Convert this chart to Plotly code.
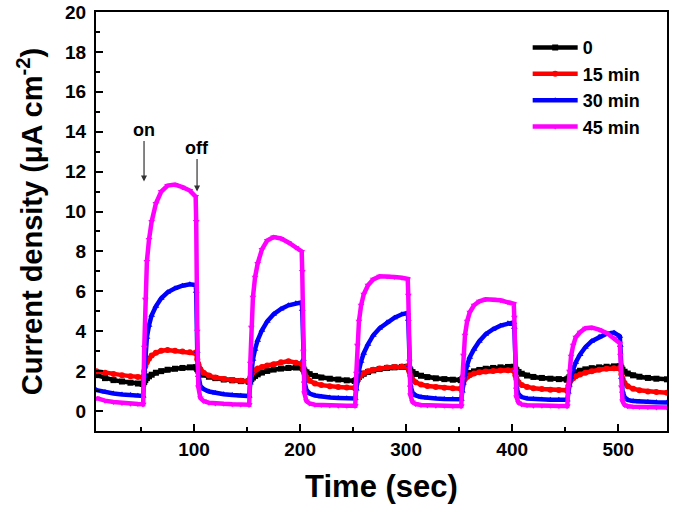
import plotly.graph_objects as go

# time axis (sec)
times = [
    8, 16, 24, 32, 40, 47, 51.5,
    52, 53, 54, 55.5, 57.5, 60, 64, 69, 75, 82, 89, 96, 101.5,
    102, 103, 104, 106, 109, 114, 120, 128, 136, 144, 151.5,
    152, 153, 154, 155.5, 157.5, 160, 164, 169, 175, 182, 189, 196, 201.5,
    202, 203, 204, 206, 209, 214, 220, 228, 236, 244, 251.5,
    252, 253, 254, 255.5, 257.5, 260, 264, 269, 275, 282, 289, 296, 301.5,
    302, 303, 304, 306, 309, 314, 320, 328, 336, 344, 351.5,
    352, 353, 354, 355.5, 357.5, 360, 364, 369, 375, 382, 389, 396, 401.5,
    402, 403, 404, 406, 409, 414, 420, 428, 436, 444, 451.5,
    452, 453, 454, 455.5, 457.5, 460, 464, 469, 475, 482, 489, 496, 501.5,
    502, 503, 504, 506, 509, 514, 520, 528, 536, 546,
]

current_0min = [
    1.80, 1.65, 1.55, 1.48, 1.42, 1.38, 1.36,
    1.36, 1.45, 1.55, 1.65, 1.74, 1.82, 1.92, 2.00, 2.07, 2.12, 2.16, 2.19, 2.20,
    2.18, 2.10, 2.02, 1.92, 1.82, 1.72, 1.65, 1.58, 1.54, 1.50, 1.48,
    1.48, 1.53, 1.60, 1.68, 1.76, 1.84, 1.93, 2.01, 2.08, 2.13, 2.16, 2.18, 2.19,
    2.17, 2.10, 2.03, 1.94, 1.85, 1.76, 1.68, 1.62, 1.58, 1.54, 1.51,
    1.51, 1.56, 1.63, 1.71, 1.79, 1.87, 1.96, 2.04, 2.11, 2.16, 2.19, 2.21, 2.22,
    2.20, 2.12, 2.04, 1.95, 1.86, 1.77, 1.70, 1.64, 1.60, 1.57, 1.55,
    1.55, 1.60, 1.67, 1.75, 1.83, 1.91, 1.99, 2.06, 2.12, 2.16, 2.19, 2.21, 2.22,
    2.20, 2.12, 2.05, 1.96, 1.87, 1.78, 1.71, 1.66, 1.62, 1.60, 1.58,
    1.58, 1.63, 1.70, 1.78, 1.86, 1.94, 2.02, 2.09, 2.15, 2.19, 2.22, 2.24, 2.25,
    2.23, 2.15, 2.07, 1.97, 1.88, 1.79, 1.72, 1.66, 1.62, 1.59,
]

current_15min = [
    2.00, 1.92, 1.86, 1.80, 1.75, 1.71, 1.69,
    1.69, 2.00, 2.25, 2.45, 2.62, 2.78, 2.92, 3.02, 3.06, 3.02, 2.98, 2.95, 2.93,
    2.88, 2.60, 2.35, 2.10, 1.92, 1.78, 1.68, 1.60, 1.55, 1.52, 1.50,
    1.50, 1.68, 1.82, 1.95, 2.05, 2.13, 2.21, 2.28, 2.35, 2.45, 2.50, 2.42, 2.38,
    2.35, 2.10, 1.90, 1.70, 1.52, 1.38, 1.30, 1.24, 1.20, 1.18, 1.16,
    1.16, 1.35, 1.52, 1.68, 1.80, 1.90, 2.00, 2.07, 2.13, 2.18, 2.21, 2.23, 2.24,
    2.20, 1.98, 1.78, 1.58, 1.44, 1.33, 1.26, 1.21, 1.17, 1.14, 1.12,
    1.12, 1.30, 1.46, 1.60, 1.71, 1.80, 1.88, 1.94, 1.98, 2.01, 2.03, 2.04, 2.05,
    2.00, 1.80, 1.62, 1.44, 1.30, 1.20, 1.14, 1.10, 1.07, 1.05, 1.04,
    1.04, 1.25, 1.42, 1.55, 1.65, 1.74, 1.83, 1.92, 2.00, 2.07, 2.12, 2.15, 2.16,
    2.12, 1.85, 1.62, 1.40, 1.24, 1.12, 1.04, 0.98, 0.95, 0.92,
]

current_30min = [
    1.05, 0.95, 0.88, 0.83, 0.80, 0.77, 0.76,
    0.76, 1.80, 2.80, 3.70, 4.30, 4.80, 5.25, 5.65, 5.95, 6.15, 6.28, 6.35, 6.32,
    6.00, 3.00, 1.80, 1.25, 1.10, 0.98, 0.90, 0.84, 0.80, 0.77, 0.75,
    0.75, 1.40, 2.00, 2.60, 3.10, 3.55, 4.05, 4.50, 4.85, 5.12, 5.30, 5.40, 5.45,
    5.10, 2.60, 1.50, 1.05, 0.88, 0.78, 0.72, 0.68, 0.66, 0.64, 0.63,
    0.63, 1.10, 1.55, 2.05, 2.50, 2.90, 3.35, 3.80, 4.15, 4.45, 4.68, 4.85, 4.92,
    4.60, 2.30, 1.30, 0.92, 0.78, 0.70, 0.66, 0.63, 0.61, 0.60, 0.59,
    0.59, 1.00, 1.40, 1.85, 2.30, 2.70, 3.10, 3.50, 3.85, 4.10, 4.28, 4.40, 4.45,
    4.20, 2.10, 1.20, 0.85, 0.70, 0.63, 0.60, 0.58, 0.57, 0.56, 0.56,
    0.56, 0.95, 1.30, 1.70, 2.10, 2.45, 2.84, 3.20, 3.50, 3.72, 3.88, 3.93, 3.75,
    3.30, 1.70, 1.00, 0.70, 0.56, 0.50, 0.47, 0.45, 0.44, 0.43,
]

current_45min = [
    0.65, 0.52, 0.45, 0.40, 0.37, 0.35, 0.34,
    0.34, 3.20, 5.60, 7.50, 8.60, 9.50, 10.40, 11.00, 11.30, 11.35, 11.22, 11.05, 10.75,
    9.50, 4.00, 1.20, 0.65, 0.50, 0.42, 0.38, 0.36, 0.34, 0.33, 0.32,
    0.32, 2.40, 4.20, 5.70, 6.70, 7.40, 8.10, 8.55, 8.72, 8.65, 8.45, 8.20, 8.00,
    7.00, 3.00, 0.90, 0.50, 0.38, 0.32, 0.30, 0.28, 0.27, 0.26, 0.26,
    0.26, 1.90, 3.30, 4.50, 5.30, 5.85, 6.30, 6.60, 6.75, 6.76, 6.72, 6.68, 6.62,
    5.80, 2.50, 0.80, 0.45, 0.35, 0.30, 0.28, 0.27, 0.26, 0.25, 0.25,
    0.25, 1.60, 2.80, 3.80, 4.50, 4.95, 5.30, 5.50, 5.60, 5.60, 5.55, 5.45, 5.38,
    4.70, 2.00, 0.70, 0.42, 0.33, 0.29, 0.27, 0.26, 0.26, 0.25, 0.25,
    0.25, 1.20, 2.00, 2.75, 3.30, 3.70, 3.95, 4.15, 4.18, 4.08, 3.92, 3.65, 3.40,
    2.80, 1.20, 0.50, 0.30, 0.24, 0.21, 0.20, 0.19, 0.18, 0.18,
]

series_names = ["0", "15 min", "30 min", "45 min"]
series_values = [current_0min, current_15min, current_30min, current_45min]
series_colors = ["#000000", "#ff0000", "#0000ff", "#ff00ff"]
series_symbols = ["square", "circle", "triangle-up", "triangle-down"]

x_ticks = [100, 200, 300, 400, 500]
y_ticks = [0, 2, 4, 6, 8, 10, 12, 14, 16, 18, 20]

FONT = "Liberation Sans, Arial, sans-serif"

fig = go.Figure()
for name, vals, col, sym in zip(series_names, series_values, series_colors, series_symbols):
    assert len(vals) == len(times)
    fig.add_trace(go.Scatter(
        x=times, y=vals, name=name, mode="lines+markers",
        line=dict(color=col, width=4.5),
        marker=dict(color=col, symbol=sym, size=6, line=dict(width=0)),
    ))

axis_common = dict(
    showline=True, linecolor="black", linewidth=2, mirror=True,
    ticks="inside", ticklen=7, tickwidth=2, tickcolor="black",
    showgrid=False, zeroline=False, automargin=False,
    tickfont=dict(family=FONT, size=19, color="black", weight="bold"),
)

fig.update_xaxes(
    range=[7.5, 546], tickvals=x_ticks, ticklabelstandoff=0,
    minor=dict(ticks="inside", ticklen=4, tickwidth=2, tickcolor="black", dtick=50, tick0=0),
    title=dict(text="Time (sec)", font=dict(family=FONT, size=31, color="black", weight="bold"), standoff=17),
    **axis_common,
)
fig.update_yaxes(
    range=[-1, 20], tickvals=y_ticks, ticklabelstandoff=4,
    minor=dict(ticks="inside", ticklen=4, tickwidth=2, tickcolor="black", dtick=1, tick0=0),
    title=dict(text="Current density (\u03bcA cm<sup>-2</sup>)",
               font=dict(family=FONT, size=29, color="black", weight="bold"), standoff=14),
    **axis_common,
)

# on/off labels with arrows
fig.add_annotation(x=52.8, y=11.5, text="on", showarrow=True, ax=0, ay=-52,
                   arrowhead=2, arrowsize=1, arrowwidth=1.2, arrowcolor="#333333",
                   font=dict(family=FONT, size=18, color="black", weight="bold"))
fig.add_annotation(x=102.8, y=11.0, text="off", showarrow=True, ax=0, ay=-44,
                   arrowhead=2, arrowsize=1, arrowwidth=1.2, arrowcolor="#333333",
                   font=dict(family=FONT, size=18, color="black", weight="bold"))

fig.update_layout(
    width=675, height=506,
    margin=dict(l=96, r=8, t=12, b=75),
    paper_bgcolor="white", plot_bgcolor="white",
    showlegend=True,
    legend=dict(x=0.756, y=0.959, xanchor="left", yanchor="top",
                bgcolor="rgba(0,0,0,0)", borderwidth=0, itemwidth=45,
                font=dict(family=FONT, size=18, color="black", weight="bold")),
)

# remove the page's default 8px body margin so the figure fills the window
fig.write_html("out.html", config={"displayModeBar": False},
               post_script="document.body.style.margin='0';")
